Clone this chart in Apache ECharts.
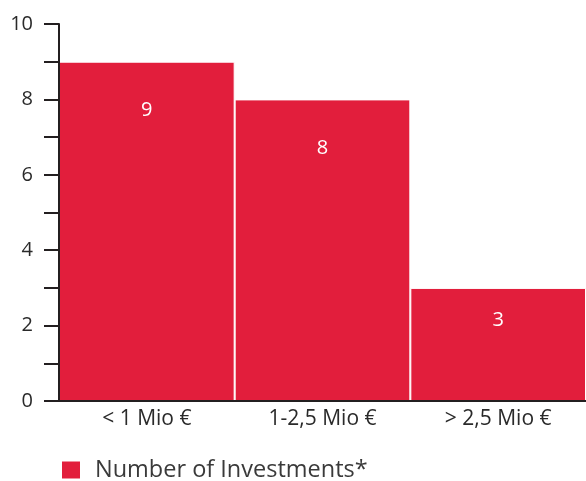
<!DOCTYPE html>
<html>
<head>
<meta charset="utf-8">
<script src="https://cdn.jsdelivr.net/npm/echarts@6/dist/echarts.min.js"></script>
<style>
html,body{margin:0;padding:0;background:#fff;}
#chart{width:586px;height:481px;}
</style>
</head>
<body>
<div id="chart"></div>
<script>
const categories = ['< 1 Mio €', '1-2,5 Mio €', '> 2,5 Mio €'];
const seriesName = 'Number of Investments*';
const values = [9, 8, 3];
const yTicks = [0, 2, 4, 6, 8, 10];

// label offsets (style only)
const labelDistances = [39, 39, 22];

const FONT = '"Open Sans", "Noto Sans", sans-serif';
const AXIS_COLOR = '#231f20';
const BAR_COLOR = '#e21e3c';

const chart = echarts.init(document.getElementById('chart'), null, {renderer: 'canvas'});
chart.setOption({
  animation: false,
  backgroundColor: '#fff',
  textStyle: {fontFamily: FONT},
  grid: {left: 59, right: 0, top: 24, bottom: 80, containLabel: false},
  legend: {
    left: 55, top: 453,
    itemWidth: 20, itemHeight: 19,
    icon: 'rect',
    textStyle: {fontSize: 23.5, color: '#3a3a3a', fontFamily: FONT, padding: [0, 0, 0, 9]},
    data: [seriesName]
  },
  xAxis: {
    type: 'category',
    data: categories,
    z: 10,
    axisLine: {lineStyle: {color: AXIS_COLOR, width: 2}},
    axisTick: {show: false},
    axisLabel: {fontSize: 21, color: '#2a2a2a', margin: 8, fontFamily: FONT}
  },
  yAxis: {
    type: 'value',
    min: yTicks[0], max: yTicks[yTicks.length - 1], interval: 2,
    z: 10,
    axisLine: {show: true, lineStyle: {color: AXIS_COLOR, width: 2}},
    axisTick: {show: true, length: 15, lineStyle: {color: AXIS_COLOR, width: 2}},
    minorTick: {show: true, splitNumber: 2, length: 15, lineStyle: {color: AXIS_COLOR, width: 2}},
    splitLine: {show: false},
    axisLabel: {fontSize: 20, color: '#2a2a2a', margin: 26, fontFamily: FONT}
  },
  series: [{
    name: seriesName,
    type: 'bar',
    barCategoryGap: 0,
    itemStyle: {color: BAR_COLOR, borderColor: '#fff', borderWidth: 1},
    data: values.map((v, i) => ({
      value: v,
      label: {show: true, position: 'insideTop', distance: labelDistances[i], color: '#fff', fontSize: 20, fontFamily: FONT}
    }))
  }]
});
</script>
</body>
</html>
